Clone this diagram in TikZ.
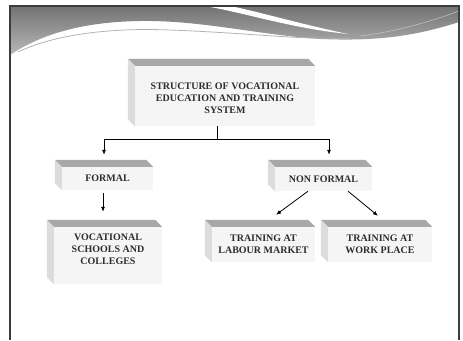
\documentclass[tikz,border=0pt]{standalone}
\usepackage{fontspec}
\setmainfont{Liberation Serif}
\usetikzlibrary{arrows.meta}
\definecolor{face}{RGB}{245,245,245}
\definecolor{bevtop}{RGB}{168,168,168}
\definecolor{bevside}{RGB}{220,220,220}
\definecolor{ink}{RGB}{45,45,45}
\definecolor{frameink}{RGB}{60,60,60}

\begin{document}
\begin{tikzpicture}[x=1pt,y=-1pt,
  b/.style={fill=face,text=ink,inner sep=0pt,align=center,font=\bfseries\fontsize{10}{12}\selectfont},
  a/.style={-{Latex[length=5pt,width=4pt]},thick,draw=black},
  l/.style={thick,draw=black}]
  \useasboundingbox (0,0) rectangle (463,340);
  % banner
  \shade[top color=black!55,bottom color=black!28]
    (10,6) -- (459,6) -- (459,22)
    .. controls (410,38) and (370,41) .. (320,39)
    .. controls (260,35) and (200,20) .. (140,21)
    .. controls (80,22) and (40,35) .. (10,55) -- cycle;
  \fill[white] (205,6) .. controls (250,14) and (290,28) .. (348,34)
    .. controls (300,24) and (260,12) .. (230,6) -- cycle;
  \draw[black!30,line width=0.8pt] (18,52) .. controls (60,32) and (120,28) .. (170,30)
    .. controls (250,33) and (300,40) .. (350,38);
  \draw[white!75!black,line width=0.6pt] (360,36) .. controls (400,31) and (435,20) .. (459,11);
  \draw[frameink,line width=1.2pt] (10,340) -- (10,6) -- (459,6) -- (459,340);
  % boxes
  \node[b,minimum width=180pt,minimum height=60pt,text height=36pt] (main) at (225,96)
    {STRUCTURE OF VOCATIONAL\\EDUCATION AND TRAINING\\SYSTEM};
  \node[b,minimum width=91pt,minimum height=23pt] (formal) at (107.5,178.5) {FORMAL};
  \node[b,minimum width=97pt,minimum height=24pt] (nonformal) at (323.5,179) {NON FORMAL};
  \node[b,minimum width=108pt,minimum height=57pt,text depth=13pt] (voc) at (108,255.5)
    {VOCATIONAL\\SCHOOLS AND\\COLLEGES};
  \node[b,minimum width=103pt,minimum height=35pt] (labour) at (263.5,244.5)
    {TRAINING AT\\LABOUR MARKET};
  \node[b,minimum width=104pt,minimum height=35pt] (work) at (380,244.5)
    {TRAINING AT\\WORK PLACE};
  \foreach \n in {main,formal,nonformal,voc,labour,work} {
    \fill[bevtop] ([shift={(-7,-7)}]\n.north west) -- ([shift={(-7,-7)}]\n.north east)
      -- (\n.north east) -- (\n.north west) -- cycle;
    \fill[bevside] ([shift={(-7,-7)}]\n.north west) -- (\n.north west)
      -- (\n.south west) -- ([shift={(-7,-7)}]\n.south west) -- cycle;
  }
  % connectors
  \coordinate (split) at (217,139);
  \draw[l] (main.south -| split) -- (split);
  \draw[a] (split) -| ([shift={(-3.5,-12)}]formal.north);
  \draw[a] (split) -| ([shift={(5.5,-12)}]nonformal.north);
  \draw[a] ([shift={(-4.5,3)}]formal.south) -- ([shift={(-5,-15)}]voc.north);
  \draw[a] ([shift={(-15.5,0)}]nonformal.south) -- ([shift={(12.5,-12)}]labour.north);
  \draw[a] ([shift={(24.5,0)}]nonformal.south) -- ([shift={(-2,-11)}]work.north);
\end{tikzpicture}
\end{document}
